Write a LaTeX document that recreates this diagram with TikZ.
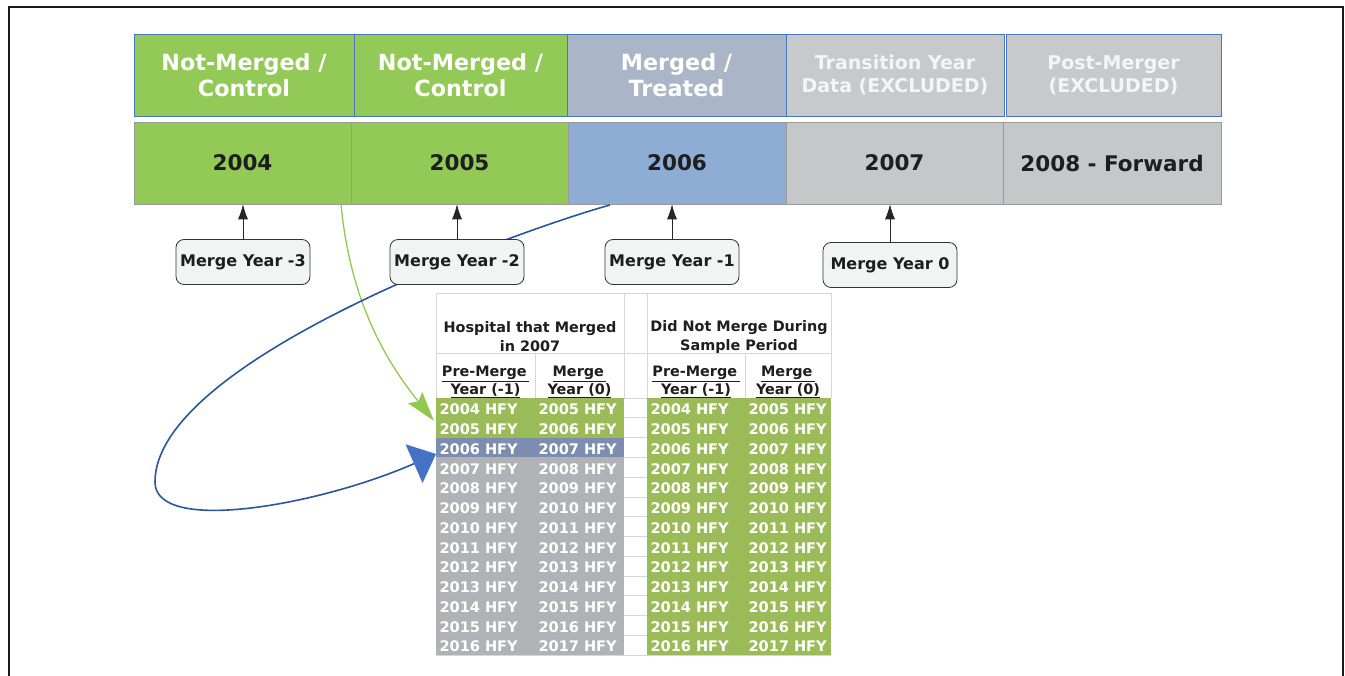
\documentclass[tikz,border=0pt]{standalone}
\usepackage{fontspec}
\setmainfont{DejaVu Sans}
\usetikzlibrary{arrows.meta}
\definecolor{cgreen}{HTML}{93C957}
\definecolor{cmerged}{HTML}{AAB5C8}
\definecolor{cgrayA}{HTML}{C8C9CB}
\definecolor{cblue2}{HTML}{8DADD4}
\definecolor{cgray2}{HTML}{C6C7C9}
\definecolor{hdrline}{HTML}{4A76C0}
\definecolor{rowline}{HTML}{9A9A9A}
\definecolor{tgreen}{HTML}{9BBB59}
\definecolor{tblue}{HTML}{7D8DAF}
\definecolor{tgray}{HTML}{B1B2B6}
\definecolor{gridc}{HTML}{D6D6D6}
\definecolor{boxfill}{HTML}{F2F3F3}
\definecolor{darktext}{HTML}{1E1E1E}
\definecolor{arrblue}{HTML}{2B5797}
\definecolor{headblue}{HTML}{4472C4}
\definecolor{arrgreen}{HTML}{92C850}
\definecolor{paletext}{HTML}{F5F5F5}
\newcommand\myfs[2]{\fontsize{#1pt}{#2pt}\selectfont}
\begin{document}
\begin{tikzpicture}[x=1pt,y=-1pt,
  hcell/.style={draw=hdrline, line width=0.7pt, inner sep=0pt, align=center, text=white, font=\bfseries\myfs{22.3}{26.5}, minimum height=82pt},
  hcellb/.style={hcell, text=paletext, font=\bfseries\myfs{19}{23}},
  ycell/.style={draw=rowline, line width=0.6pt, inner sep=0pt, align=center, text=darktext, font=\bfseries\myfs{21.5}{25}, minimum height=82pt},
  mbox/.style={draw=black!80, line width=0.8pt, fill=boxfill, rounded corners=8pt, minimum width=134pt, minimum height=45pt, inner sep=0pt, text=darktext, font=\bfseries\myfs{16}{18}},
  uparrow/.style={draw=black!85, line width=0.8pt, -{Latex[length=15pt,width=10pt]}},
  dtext/.style={inner xsep=3.5pt, inner ysep=0pt, minimum height=19.77pt, text=white, align=left, font=\bfseries\myfs{14.6}{16}},
  thdr/.style={inner sep=0pt, align=center, text=darktext, font=\bfseries\myfs{14.4}{19}},
  thdrb/.style={inner sep=0pt, align=center, text=darktext, font=\bfseries\myfs{14.4}{18}},
  grid/.style={draw=gridc, line width=0.7pt}
]
\path[use as bounding box] (0,0) rectangle (1345,676);
\fill[white] (0,0) rectangle (1345,676);
% frame
\draw[line width=1.5pt, black!90] (9,690) -- (9,7) -- (1343,7) -- (1343,690);

% top header row
\node[hcell, fill=cgreen, minimum width=220pt] (t1) at (244,75) {Not-Merged /\\Control};
\node[hcell, fill=cgreen, minimum width=213pt] (t2) at (460.5,75) {Not-Merged /\\Control};
\node[hcell, fill=cmerged, minimum width=219pt] (t3) at (676.5,75) {Merged /\\Treated};
\node[hcellb, fill=cgrayA, minimum width=218pt] (t4) at (895,75) {Transition Year\\Data (EXCLUDED)};
\node[hcellb, fill=cgrayA, minimum width=215pt] (t5) at (1113.5,75) {Post-Merger\\(EXCLUDED)};

% year row
\node[ycell, fill=cgreen, minimum width=217pt] (y1) at (242.5,163) {2004};
\node[ycell, fill=cgreen, minimum width=217pt] (y2) at (459.5,163) {2005};
\node[ycell, fill=cblue2, minimum width=218pt] (y3) at (677,163) {2006};
\node[ycell, fill=cgray2, minimum width=217pt] (y4) at (894.5,163) {2007};
\node[ycell, fill=cgray2, minimum width=218pt] (y5) at (1112,163) {2008 - Forward};

% table fills
\foreach \i/\lc in {0/tgreen,1/tgreen,2/tblue,3/tgray,4/tgray,5/tgray,6/tgray,7/tgray,8/tgray,9/tgray,10/tgray,11/tgray,12/tgray}{
  \fill[\lc] (436,{398+\i*19.77}) rectangle (624,{398+(\i+1)*19.77});
}
\fill[tgreen] (647,398) rectangle (831,655);
% grid lines
\foreach \k in {0,...,13}{
  \draw[grid] (624,{398+\k*19.77}) -- (647,{398+\k*19.77});
}
\draw[grid] (436,293) -- (831,293);
\draw[grid] (436,353) -- (831,353);
\draw[grid] (436,293) -- (436,398);
\draw[grid] (624,293) -- (624,398);
\draw[grid] (647,293) -- (647,398);
\draw[grid] (831,293) -- (831,398);
\draw[grid] (535,353) -- (535,398);
\draw[grid] (745,353) -- (745,398);
\draw[grid] (436,655.5) -- (831,655.5);

% table headers
\node[thdr] (hm) at (530,337) {Hospital that Merged\\in 2007};
\node[thdr] (dn) at (739,337) {Did Not Merge During\\Sample Period};
\node[thdrb] (p1) at (485.5,382) {\underline{Pre-Merge\,}\\\underline{Year (-1)}};
\node[thdrb] (q1) at (579.5,382) {\underline{Merge\,}\\\underline{Year (0)}};
\node[thdrb] (p2) at (696,382) {\underline{Pre-Merge\,}\\\underline{Year (-1)}};
\node[thdrb] (q2) at (788,382) {\underline{Merge\,}\\\underline{Year (0)}};

% table data
\foreach \i in {0,...,12}{
  \pgfmathtruncatemacro\ya{2004+\i}
  \pgfmathtruncatemacro\yb{2005+\i}
  \pgfmathsetmacro\yc{399.5+(\i+0.5)*19.77}
  \node[dtext, text width=92pt] (a\i) at (485.5,\yc) {\ya\ HFY};
  \node[dtext, text width=82pt] (b\i) at (579.5,\yc) {\yb\ HFY};
  \node[dtext, text width=91pt] (c\i) at (696,\yc) {\ya\ HFY};
  \node[dtext, text width=79pt] (d\i) at (788,\yc) {\yb\ HFY};
}

% curved connectors
\coordinate (gS) at (341,204);
\coordinate (gT) at (434,421);
\coordinate (bS) at (610,205);
\coordinate (bL) at (155,482);
\coordinate (bT) at (436,454);
\draw[arrgreen, line width=1.3pt, -{Stealth[length=30pt,width=18pt,inset=5pt]}]
  (gS) .. controls (350,300) and (385,360) .. (gT);
\draw[arrblue, line width=1.6pt, -{Triangle[length=24pt,width=42pt,color=headblue]}]
  (bS) .. controls (520,230) and (155,360) .. (bL)
       .. controls (155,535) and (320,505) .. (bT);

% merge-year boxes
\node[mbox] (m3) at (243,262) {Merge Year -3};
\node[mbox] (m2) at (457,262) {Merge Year -2};
\node[mbox] (m1) at (672,262) {Merge Year -1};
\node[mbox] (m0) at (890,265) {Merge Year 0};
\draw[uparrow] (m3.north) -- (m3.north |- y1.south);
\draw[uparrow] (m2.north) -- (m2.north |- y2.south);
\draw[uparrow] (m1.north) -- (m1.north |- y3.south);
\draw[uparrow] (m0.north) -- (m0.north |- y4.south);
\end{tikzpicture}
\end{document}
